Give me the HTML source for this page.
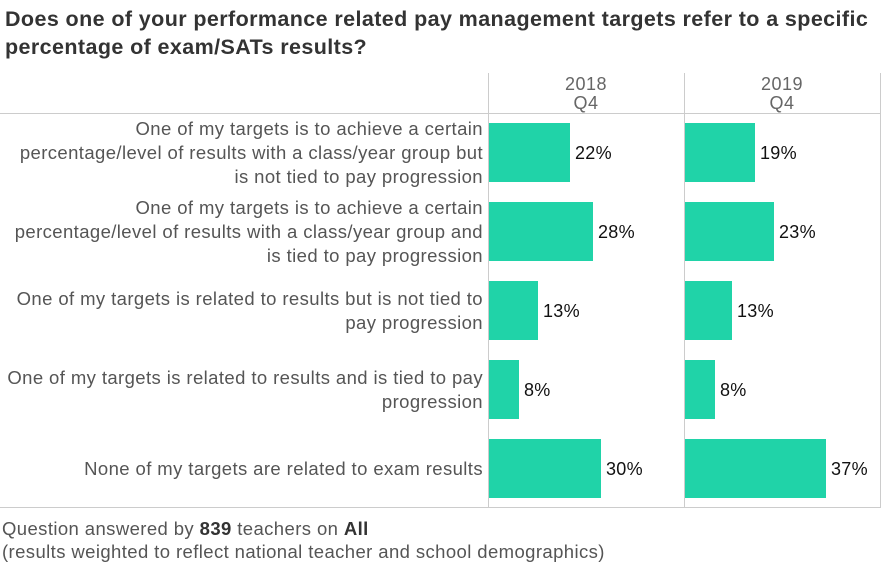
<!DOCTYPE html>
<html><head><style>
body{margin:0;width:882px;height:565px;background:#fff;font-family:"Liberation Sans",sans-serif;position:relative;overflow:hidden}
.a{position:absolute}
.t{left:5px;top:5px;font-size:21.5px;font-weight:bold;color:#333;line-height:28px;letter-spacing:0.4px;white-space:nowrap}
.v{width:1px;background:#ccc;top:73px;height:435px}
.h{height:1px;background:#ccc;left:0;width:881px}
.hd{font-size:18px;color:#666;text-align:center;width:196px;line-height:19px;top:75px;letter-spacing:0.5px}
.lb{right:399px;width:485px;text-align:right;font-size:18.5px;color:#555;line-height:24px;letter-spacing:0.4px;white-space:nowrap}
.bar{background:#20d3a8;height:59px}
.p{font-size:18px;color:#111;line-height:20px;letter-spacing:0.3px}
.f{left:2px;font-size:18.5px;color:#555;line-height:23px;letter-spacing:0.4px;white-space:nowrap}
</style></head><body>
<div class="a t">Does one of your performance related pay management targets refer to a specific<br>percentage of exam/SATs results?</div>
<div class="a v" style="left:488px"></div>
<div class="a v" style="left:684px"></div>
<div class="a v" style="left:880px"></div>
<div class="a h" style="top:113px"></div>
<div class="a h" style="top:507px"></div>
<div class="a hd" style="left:488px">2018<br>Q4</div>
<div class="a hd" style="left:684px">2019<br>Q4</div>

<div class="a lb" style="top:117px">One of my targets is to achieve a certain<br>percentage/level of results with a class/year group but<br>is not tied to pay progression</div>
<div class="a lb" style="top:196px">One of my targets is to achieve a certain<br>percentage/level of results with a class/year group and<br>is tied to pay progression</div>
<div class="a lb" style="top:287px">One of my targets is related to results but is not tied to<br>pay progression</div>
<div class="a lb" style="top:366px">One of my targets is related to results and is tied to pay<br>progression</div>
<div class="a lb" style="top:457px">None of my targets are related to exam results</div>

<div class="a bar" style="left:489px;top:123px;width:81px"></div><div class="a p" style="left:575px;top:143px">22%</div>
<div class="a bar" style="left:489px;top:202px;width:104px"></div><div class="a p" style="left:598px;top:222px">28%</div>
<div class="a bar" style="left:489px;top:281px;width:49px"></div><div class="a p" style="left:543px;top:301px">13%</div>
<div class="a bar" style="left:489px;top:360px;width:30px"></div><div class="a p" style="left:524px;top:380px">8%</div>
<div class="a bar" style="left:489px;top:439px;width:112px"></div><div class="a p" style="left:606px;top:459px">30%</div>

<div class="a bar" style="left:685px;top:123px;width:70px"></div><div class="a p" style="left:760px;top:143px">19%</div>
<div class="a bar" style="left:685px;top:202px;width:89px"></div><div class="a p" style="left:779px;top:222px">23%</div>
<div class="a bar" style="left:685px;top:281px;width:47px"></div><div class="a p" style="left:737px;top:301px">13%</div>
<div class="a bar" style="left:685px;top:360px;width:30px"></div><div class="a p" style="left:720px;top:380px">8%</div>
<div class="a bar" style="left:685px;top:439px;width:141px"></div><div class="a p" style="left:831px;top:459px">37%</div>

<div class="a f" style="top:517px">Question answered by <b style="color:#333">839</b> teachers on <b style="color:#333">All</b><br>(results weighted to reflect national teacher and school demographics)</div>
</body></html>
